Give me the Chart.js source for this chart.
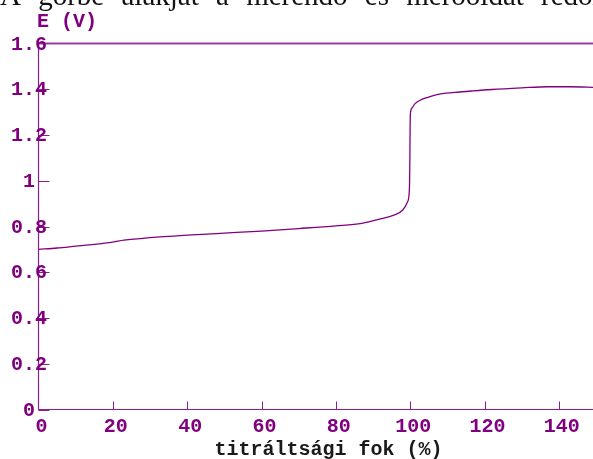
<!DOCTYPE html>
<html lang="hu">
<head>
<meta charset="utf-8">
<title>Redoxi titrálási görbe</title>
<script src="https://cdn.jsdelivr.net/npm/chart.js@4/dist/chart.umd.min.js"></script>
<style>
  html, body { margin: 0; padding: 0; background: #fff; width: 593px; height: 459px; overflow: hidden; }
  #wrap { position: relative; width: 593px; height: 459px; overflow: hidden; }
  #c { position: absolute; left: 0; top: 0; }
</style>
</head>
<body>
<div id="wrap">
  <canvas id="c" width="600" height="459"></canvas>
</div>
<script>
// titration degree (%) and measured potential E (V)
const titrationDegree = [0, 5, 10, 15, 20, 23, 30, 40, 50, 60, 70, 80, 87, 92, 95.6, 98, 99.2, 99.7, 99.85, 99.92, 99.97, 100.05, 100.5, 101.2, 102.7, 105, 107.2, 112, 117, 122, 130, 137, 143, 150];
const potential = [0.700, 0.706, 0.714, 0.722, 0.732, 0.740, 0.751, 0.762, 0.771, 0.780, 0.791, 0.803, 0.814, 0.833, 0.850, 0.872, 0.905, 0.940, 1.000, 1.100, 1.200, 1.290, 1.318, 1.335, 1.352, 1.366, 1.377, 1.386, 1.393, 1.399, 1.406, 1.411, 1.411, 1.408];

const xTickValues = [0, 20, 40, 60, 80, 100, 120, 140];
const xTickLabels = ['0', '20', '40', '60', '80', '100', '120', '140'];
const yTickValues = [0, 0.2, 0.4, 0.6, 0.8, 1, 1.2, 1.4, 1.6];
const yTickLabels = ['0', '0.2', '0.4', '0.6', '0.8', '1', '1.2', '1.4', '1.6'];

const xTitle = 'titráltsági fok (%)';
const yTitle = 'E (V)';
const leadText = 'A görbe alakját a mérendő és mérőoldat redoxpotenciálja';

const PURPLE = '#800080';
const AXIS = '#8c1f8c';
const TICK_FONT = 'bold 20px "Liberation Mono", "Courier New", monospace';
const LEAD_FONT = '29px "Liberation Serif", "Times New Roman", serif';

// axes, ticks and labels are painted by hand so labels can sit on the axis line
const axesPlugin = {
  id: 'axesPlugin',
  afterDraw(chart) {
    const { ctx, scales } = chart;
    const xs = scales.x, ys = scales.y;
    const left = xs.getPixelForValue(0);
    const bottom = ys.getPixelForValue(0);
    const top = ys.getPixelForValue(1.6);
    const W = chart.width;

    ctx.save();
    // running text line above the figure, cut by the top edge
    ctx.font = LEAD_FONT;
    ctx.fillStyle = '#111';
    ctx.textAlign = 'left';
    ctx.textBaseline = 'alphabetic';
    if ('wordSpacing' in ctx) {
      ctx.wordSpacing = '10px';
      ctx.fillText(leadText, 0, 5);
      ctx.wordSpacing = '0px';
    } else {
      let x = 0;
      leadText.split(' ').forEach(w => {
        ctx.fillText(w, x, 5);
        x += ctx.measureText(w + ' ').width + 10;
      });
    }

    // upper limit line
    ctx.strokeStyle = '#9a3a9a';
    ctx.lineWidth = 2;
    ctx.beginPath(); ctx.moveTo(left, top); ctx.lineTo(W, top); ctx.stroke();

    // axis lines
    ctx.strokeStyle = AXIS;
    ctx.lineWidth = 1.2;
    ctx.beginPath();
    ctx.moveTo(left, top); ctx.lineTo(left, bottom); ctx.lineTo(W, bottom);
    ctx.stroke();

    // y ticks (inward)
    ctx.lineWidth = 1;
    yTickValues.forEach(v => {
      if (v >= 1.6) return;
      const y = Math.round(ys.getPixelForValue(v)) + 0.5;
      ctx.beginPath(); ctx.moveTo(left, y); ctx.lineTo(left + 11, y); ctx.stroke();
    });
    // x ticks (inward)
    xTickValues.forEach(v => {
      if (v === 0) return;
      const x = Math.round(xs.getPixelForValue(v)) + 0.5;
      ctx.beginPath(); ctx.moveTo(x, bottom); ctx.lineTo(x, bottom - 8); ctx.stroke();
    });

    // tick labels
    ctx.font = TICK_FONT;
    ctx.fillStyle = PURPLE;
    ctx.textAlign = 'center';
    ctx.textBaseline = 'middle';
    yTickValues.forEach((v, i) => {
      ctx.fillText(yTickLabels[i], 29, ys.getPixelForValue(v) + 1);
    });
    xTickValues.forEach((v, i) => {
      ctx.fillText(xTickLabels[i], xs.getPixelForValue(v) + 3, bottom + 17);
    });

    // axis titles
    ctx.textAlign = 'left';
    ctx.fillText(yTitle, 37, 22);
    ctx.fillStyle = '#1a1a1a';
    ctx.textAlign = 'center';
    ctx.textBaseline = 'alphabetic';
    ctx.fillText(xTitle, 328.5, 455);
    ctx.restore();
  }
};

function build() {
  new Chart(document.getElementById('c'), {
    type: 'scatter',
    data: {
      datasets: [{
        data: titrationDegree.map((x, i) => ({ x, y: potential[i] })),
        showLine: true,
        borderColor: PURPLE,
        borderWidth: 1.3,
        pointRadius: 0,
        cubicInterpolationMode: 'monotone',
        fill: false
      }]
    },
    options: {
      responsive: false,
      devicePixelRatio: 1,
      animation: false,
      layout: { padding: { left: 38.5, top: 43.5, right: 4, bottom: 49.5 } },
      plugins: { legend: { display: false }, tooltip: { enabled: false } },
      scales: {
        x: { type: 'linear', min: 0, max: 150, display: false },
        y: { type: 'linear', min: 0, max: 1.6, display: false }
      }
    },
    plugins: [axesPlugin]
  });
}

Promise.all([
  document.fonts.load(TICK_FONT, '0123456789'),
  document.fonts.load(LEAD_FONT, 'Agörbe')
]).then(build, build);
</script>
</body>
</html>
